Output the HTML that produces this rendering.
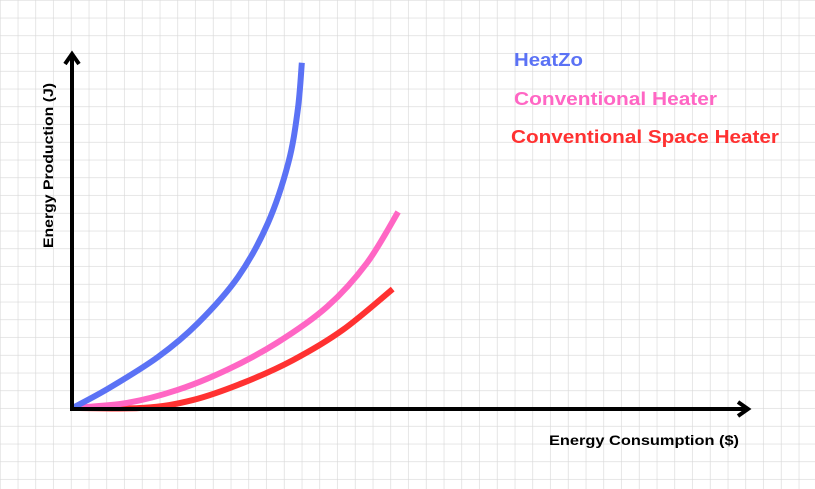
<!DOCTYPE html>
<html><head><meta charset="utf-8"><style>
html,body{margin:0;padding:0;background:#fff;}
svg{display:block;font-family:"Liberation Sans",sans-serif;}
</style></head><body>
<svg id="chart" width="815" height="489" viewBox="0 0 815 489" xmlns="http://www.w3.org/2000/svg">
<defs>
<pattern id="grid" x="0.6" y="0.6" width="17.75" height="17.75" patternUnits="userSpaceOnUse">
<path d="M17.75 0 V17.75 M0 17.75 H17.75" fill="none" stroke="#d8d8d8" stroke-width="1.3"/>
</pattern>
</defs>
<rect x="0" y="0" width="815" height="489" fill="url(#grid)"/>
<g id="series"></g>
<g>
<line x1="72" y1="411" x2="72" y2="56" stroke="#000" stroke-width="4"/>
<polyline points="65,64 72,54 79,64" fill="none" stroke="#000" stroke-width="4" stroke-linejoin="miter"/>
<line x1="70" y1="409" x2="746" y2="409" stroke="#000" stroke-width="4"/>
<polyline points="738,402 748,409 738,416" fill="none" stroke="#000" stroke-width="4"/>
</g>
<text x="549" y="445" font-size="14" font-weight="bold" textLength="190" lengthAdjust="spacingAndGlyphs">Energy Consumption ($)</text>
<text transform="translate(53,248) rotate(-90)" font-size="14" font-weight="bold" textLength="165" lengthAdjust="spacingAndGlyphs">Energy Production (J)</text>
<text x="514" y="66" font-size="18" font-weight="bold" fill="#5b72f5" textLength="69" lengthAdjust="spacingAndGlyphs">HeatZo</text>
<text x="514" y="105" font-size="18" font-weight="bold" fill="#ff66c4" textLength="203" lengthAdjust="spacingAndGlyphs">Conventional Heater</text>
<text x="511" y="143" font-size="18" font-weight="bold" fill="#ff3131" textLength="268" lengthAdjust="spacingAndGlyphs">Conventional Space Heater</text>
</svg>
<script>
const heatzoX = [0.1, 5.5, 12.7, 18.6, 24.5, 28.9, 31.9, 33.3, 33.9];
const heatzoY = [0.3, 5.9, 14.6, 24.1, 37, 52.1, 68.9, 83.8, 97];
const convX = [0.1, 8.1, 15.5, 22.8, 30.2, 37.6, 43.5, 48.1];
const convY = [0.3, 1.7, 5.3, 10.9, 18.5, 28.6, 40.9, 55.2];
const spaceX = [0.1, 10.5, 17.8, 25.2, 32.6, 39.9, 47.3];
const spaceY = [0.3, 0.3, 2.5, 7.3, 13.7, 22.1, 33.6];

function xScale(v){ return 72 + v * 6.78; }
function yScale(v){ return 409 - v * 3.57; }

function smoothPath(xs, ys){
  const p = xs.map((x,i)=>[xScale(x), yScale(ys[i])]);
  let d = 'M' + p[0][0] + ',' + p[0][1];
  for(let i=0;i<p.length-1;i++){
    const p0 = p[i-1]||p[i], p1=p[i], p2=p[i+1], p3=p[i+2]||p2;
    const c1x = p1[0]+(p2[0]-p0[0])/6, c1y = p1[1]+(p2[1]-p0[1])/6;
    const c2x = p2[0]-(p3[0]-p1[0])/6, c2y = p2[1]-(p3[1]-p1[1])/6;
    d += ' C'+c1x+','+c1y+' '+c2x+','+c2y+' '+p2[0]+','+p2[1];
  }
  return d;
}
const g = document.getElementById('series');
const ns = 'http://www.w3.org/2000/svg';
function addLine(xs, ys, color, name){
  const el = document.createElementNS(ns,'path');
  el.setAttribute('d', smoothPath(xs, ys));
  el.setAttribute('fill','none');
  el.setAttribute('stroke',color);
  el.setAttribute('stroke-width','6');
  
  
  g.appendChild(el);
}
addLine(spaceX, spaceY, '#ff3131', 'line-conventional-space-heater');
addLine(convX, convY, '#ff66c4', 'line-conventional-heater');
addLine(heatzoX, heatzoY, '#5b72f5', 'line-heatzo');
</script>
</body></html>
